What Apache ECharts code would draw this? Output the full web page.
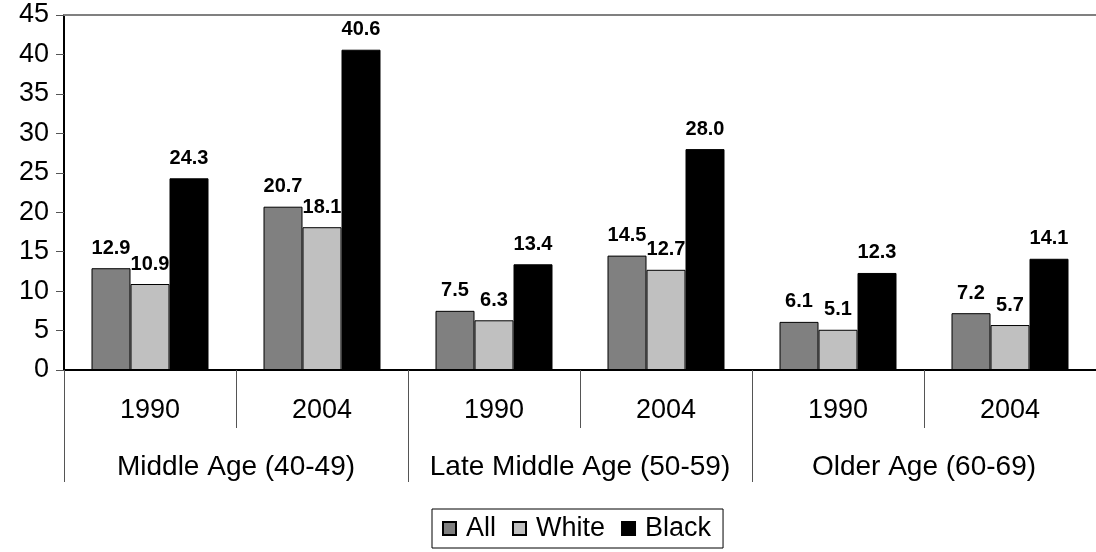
<!DOCTYPE html>
<html><head><meta charset="utf-8">
<script src="https://cdn.jsdelivr.net/npm/echarts@6/dist/echarts.min.js"></script>
<style>html,body{margin:0;padding:0;background:#fff}#c{width:1096px;height:552px}</style>
</head><body><div id="c"></div>
<script>
const years = ['1990','2004','1990','2004','1990','2004'];
const groups = ['Middle Age (40-49)','Late Middle Age (50-59)','Older Age (60-69)'];
const seriesNames = ['All','White','Black'];
const allVals = [12.9, 20.7, 7.5, 14.5, 6.1, 7.2];
const whiteVals = [10.9, 18.1, 6.3, 12.7, 5.1, 5.7];
const blackVals = [24.3, 40.6, 13.4, 28.0, 12.3, 14.1];
const colors = ['#808080','#C0C0C0','#000000'];
const yTicks = [0,5,10,15,20,25,30,35,40,45];

const FONT = 'Liberation Sans, Arial, sans-serif';
const chart = echarts.init(document.getElementById('c'));
function mk(name, data, color){
  return {
    name, type:'bar', data, barWidth:39, barGap:'0%',
    itemStyle:{color, borderColor:'#000', borderWidth:1},
    label:{show:true, position:'top', distance:10, fontFamily:FONT, fontWeight:'bold', fontSize:20, color:'#000',
      formatter:p=>Number(p.value).toFixed(1)}
  };
}
chart.setOption({
  animation:false,
  textStyle:{fontFamily:FONT},
  grid:{left:64, top:15, width:1037, height:355},
  legend:{
    data:seriesNames, left:432, bottom:4, itemWidth:13, itemHeight:13, itemGap:16,
    borderColor:'#000', borderWidth:1, padding:[6,12,6,10],
    textStyle:{fontFamily:FONT, fontSize:27, color:'#000', padding:[0,0,0,5]},
    icon:'rect'
  },
  xAxis:[
    {type:'category', data:years, position:'bottom',
     axisLine:{show:true, lineStyle:{color:'#000', width:2}},
     axisTick:{show:true, interval:0, length:58, lineStyle:{color:'#555', width:1}},
     axisLabel:{fontFamily:FONT, fontSize:27, color:'#000', margin:27, interval:0}},
    {type:'category', data:groups, position:'bottom',
     axisLine:{show:false},
     axisTick:{show:true, interval:0, length:112, lineStyle:{color:'#555', width:1}},
     axisLabel:{fontFamily:FONT, fontSize:28, color:'#000', margin:83, interval:0}},
    {type:'category', data:years, position:'top',
     axisLine:{show:true, lineStyle:{color:'#808080', width:2}},
     axisTick:{show:false}, axisLabel:{show:false}}
  ],
  yAxis:{type:'value', min:0, max:45, interval:5,
    axisLine:{show:true, lineStyle:{color:'#000', width:2}},
    axisTick:{show:true, length:8, lineStyle:{color:'#555', width:1}},
    splitLine:{show:false},
    axisLabel:{fontFamily:FONT, fontSize:27, color:'#000', margin:15,
      formatter:v=> yTicks.includes(v) ? String(v) : ''}},
  series:[mk(seriesNames[0], allVals, colors[0]), mk(seriesNames[1], whiteVals, colors[1]), mk(seriesNames[2], blackVals, colors[2])]
});
</script></body></html>
